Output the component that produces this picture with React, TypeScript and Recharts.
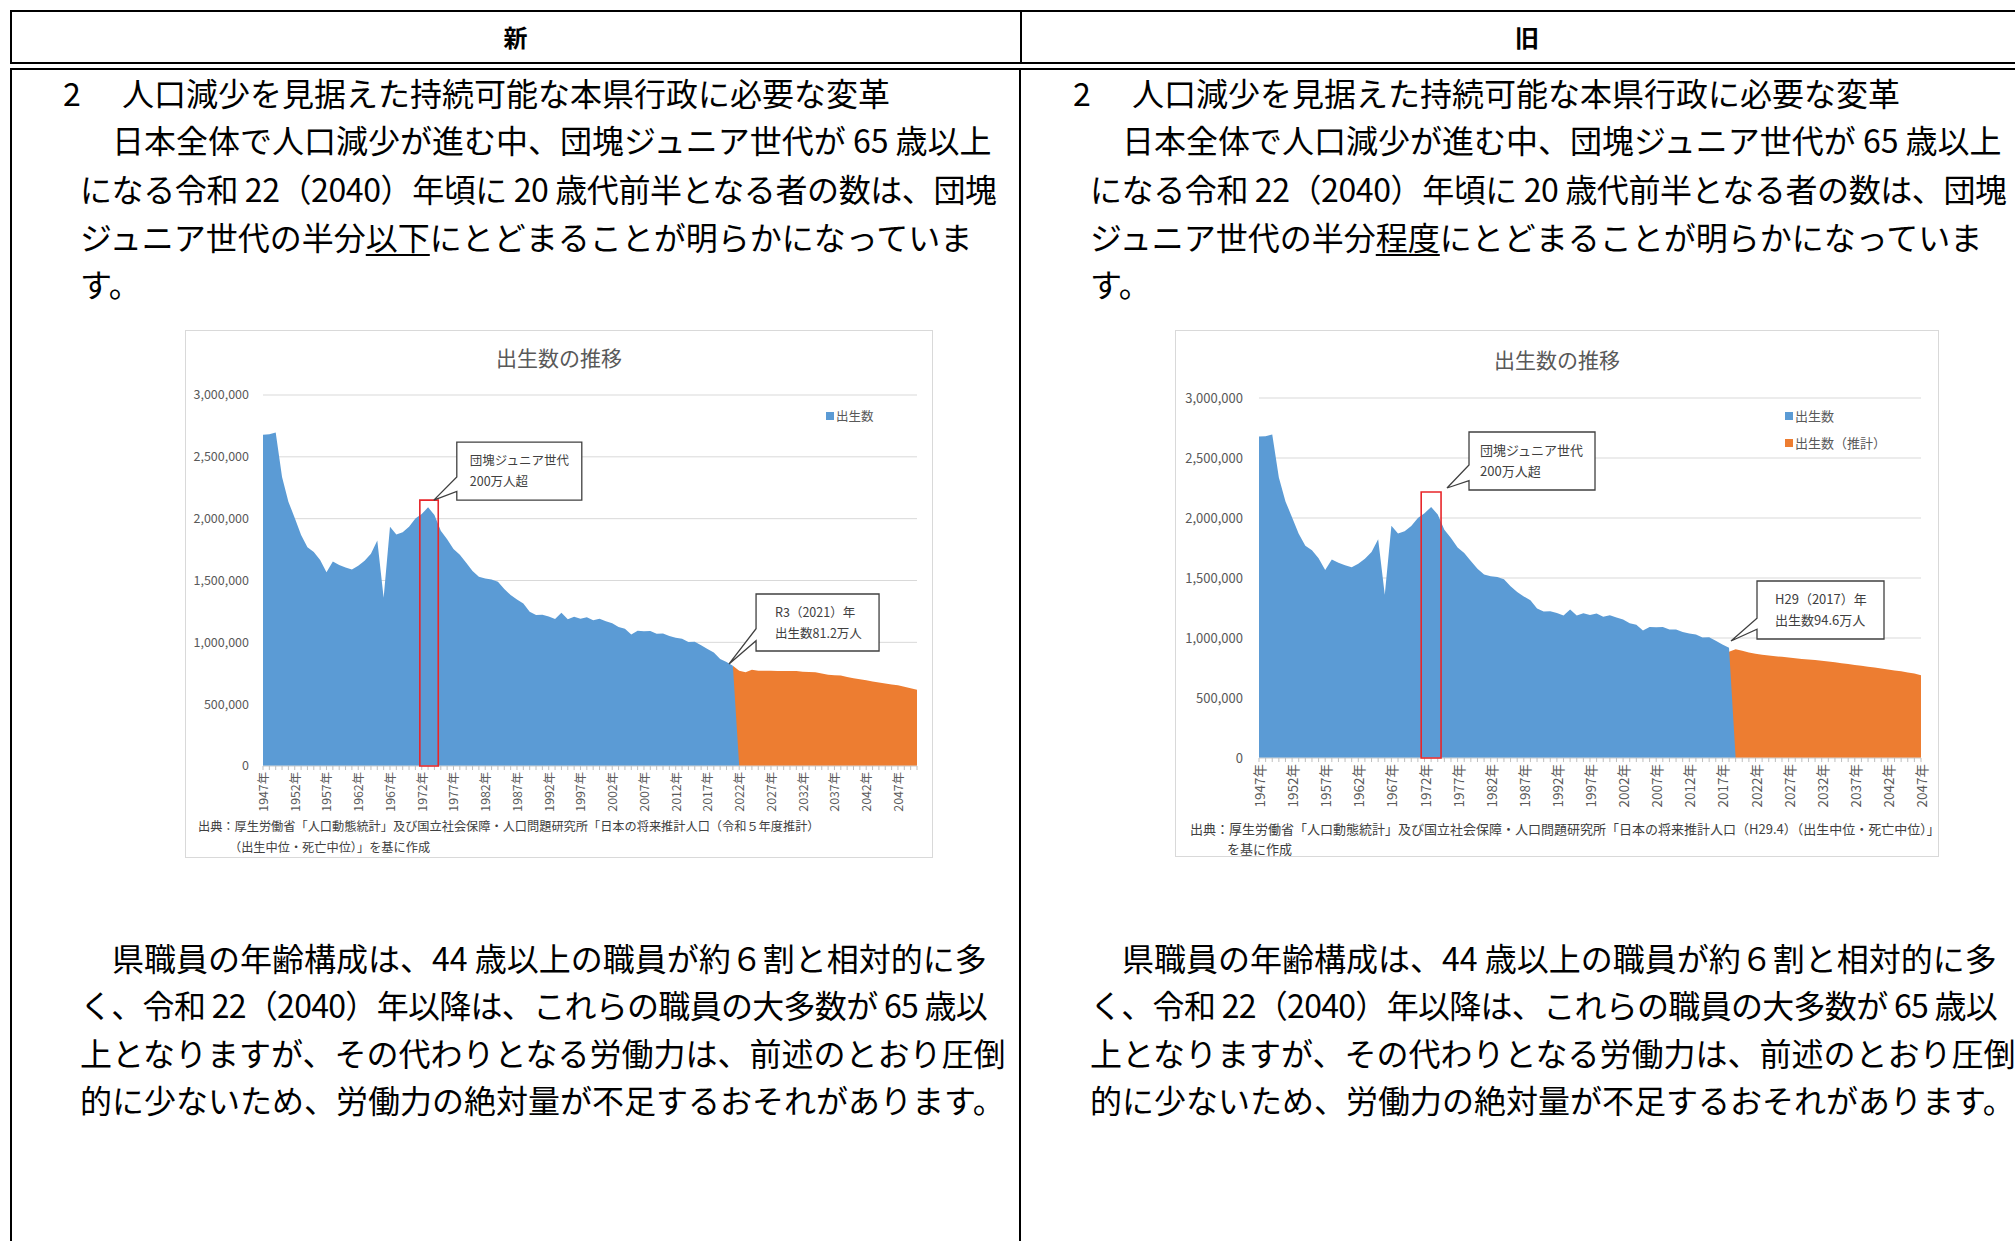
import React from "react";
import { AreaChart, Area, XAxis, YAxis, CartesianGrid, ReferenceArea, ReferenceDot } from "recharts";

const JP = '"Noto Sans CJK JP", "Noto Sans", sans-serif';

// 出生数（実績） 1947年〜2021年
const FIRST_YEAR = 1947;
const births = [
  2678792, 2681624, 2696638, 2337507, 2137689, 2005162, 1868040, 1769580, 1730692, 1665278,
  1566713, 1653469, 1626088, 1606041, 1589372, 1618616, 1659521, 1716761, 1823697, 1360974,
  1935647, 1871839, 1889815, 1934239, 2000973, 2038682, 2091983, 2029989, 1901440, 1832617,
  1755100, 1708643, 1642580, 1576889, 1529455, 1515392, 1508687, 1489780, 1431577, 1382946,
  1346658, 1314006, 1246802, 1221585, 1223245, 1208989, 1188282, 1238328, 1187064, 1206555,
  1191665, 1203147, 1177669, 1190547, 1170662, 1153855, 1123610, 1110721, 1062530, 1092674,
  1089818, 1091156, 1070035, 1071304, 1050806, 1037231, 1029816, 1003609, 1005721, 977242,
  946146, 918400, 865239, 840835, 811622,
];

// 出生数（推計）令和5年推計 2021年〜2050年
const projR5From = 2021;
const projR5 = [
  811622, 771000, 758000, 778000, 771000, 770000, 770000, 769000, 769000, 768000,
  768000, 762000, 760000, 758000, 748000, 738000, 734000, 732000, 720000, 710000,
  702000, 694000, 684000, 676000, 668000, 660000, 652000, 640000, 628000, 616000,
];

// 出生数（推計）H29推計 2018年〜2047年
const projH29From = 2018;
const projH29 = [
  885000, 906000, 893000, 880000, 868000, 860000, 854000, 848000, 843000, 837000,
  831000, 826000, 821000, 816000, 810000, 804000, 797000, 790000, 783000, 776000,
  768000, 761000, 754000, 746000, 738000, 730000, 722000, 713000, 704000, 690000,
];

const yTicks = [0, 500000, 1000000, 1500000, 2000000, 2500000, 3000000];
const labelYears = [
  1947, 1952, 1957, 1962, 1967, 1972, 1977, 1982, 1987, 1992, 1997,
  2002, 2007, 2012, 2017, 2022, 2027, 2032, 2037, 2042, 2047,
];

const BLUE = "#5B9BD5";
const ORANGE = "#ED7D31";
const GRAY = "#595959";

function buildRows(lastYear: number, actualTo: number, proj: number[], projFrom: number) {
  const rows: { year: number; actual: number | null; proj: number | null }[] = [];
  for (let y = FIRST_YEAR; y <= lastYear; y++) {
    let actual: number | null = null;
    if (y <= actualTo) actual = births[y - FIRST_YEAR];
    else if (y === actualTo + 1) actual = 0;
    const p = y >= projFrom && y - projFrom < proj.length ? proj[y - projFrom] : null;
    rows.push({ year: y, actual, proj: p });
  }
  return rows;
}

const Callout = (props: any) => {
  const { cx, cy, dx, dy, w, h, lines, pad, fontSize, wa, wb } = props;
  const left = cx + dx;
  const top = cy + dy;
  const d = `M${left},${top} H${left + w} V${top + h} H${left} V${top + h * wb} L${cx},${cy} L${left},${top + h * wa} Z`;
  return (
    <g>
      <path d={d} fill="#fff" stroke="#404040" strokeWidth={1.3} />
      {lines.map((t: string, i: number) => (
        <text
          key={i}
          x={left + pad}
          y={top + h * (i === 0 ? 0.3 : 0.67)}
          dominantBaseline="central"
          fontSize={fontSize}
          fontFamily={JP}
          fill="#404040"
        >
          {t}
        </text>
      ))}
    </g>
  );
};

type ChartCfg = {
  left: number;
  top: number;
  width: number;
  height: number;
  lastYear: number;
  actualTo: number;
  proj: number[];
  projFrom: number;
  margin: { top: number; right: number };
  yWidth: number;
  xHeight: number;
  yTickMargin: number;
  yFont: number;
  xFont: number;
  box: { x1: number; x2: number; y2: number };
  c1: any;
  c2: any;
  titleY: number;
  legend: { label: string; color: string }[];
  legendX: number;
  legendY: number;
  legendFont: number;
  notes: { text: string; x: number; y: number }[];
  noteFont: number;
};

function BirthChart({ cfg }: { cfg: ChartCfg }) {
  const rows = buildRows(cfg.lastYear, cfg.actualTo, cfg.proj, cfg.projFrom);
  const years = rows.map((r) => r.year);
  const YearTick = (p: any) => {
    const { x, y, payload } = p;
    if (!labelYears.includes(payload.value)) return <g />;
    return (
      <text
        x={x}
        y={y}
        transform={`rotate(-90 ${x} ${y})`}
        textAnchor="end"
        dominantBaseline="central"
        fontSize={cfg.xFont}
        fontFamily={JP}
        fill={GRAY}
      >
        {payload.value}年
      </text>
    );
  };
  return (
    <div style={{ position: "absolute", left: cfg.left, top: cfg.top, width: cfg.width, height: cfg.height }}>
      <div style={{ position: "absolute", inset: 0, border: "1px solid #d9d9d9", background: "#fff" }} />
      <div style={{ position: "absolute", left: 0, top: 0 }}>
        <AreaChart
          width={cfg.width}
          height={cfg.height}
          data={rows}
          margin={{ top: cfg.margin.top, right: cfg.margin.right, left: 0, bottom: 0 }}
        >
          <CartesianGrid vertical={false} stroke="#d9d9d9" />
          <XAxis
            dataKey="year"
            type="number"
            scale="linear"
            domain={[FIRST_YEAR, cfg.lastYear]}
            ticks={years}
            interval={0}
            tickSize={4}
            tickMargin={2}
            tickLine={{ stroke: "#bfbfbf" }}
            axisLine={{ stroke: "#d9d9d9" }}
            height={cfg.xHeight}
            tick={YearTick}
          />
          <YAxis
            type="number"
            domain={[0, 3000000]}
            ticks={yTicks}
            interval={0}
            width={cfg.yWidth}
            axisLine={false}
            tickLine={false}
            tickMargin={cfg.yTickMargin}
            tickFormatter={(v: number) => v.toLocaleString("en-US")}
            tick={{ fill: GRAY, fontSize: cfg.yFont, fontFamily: JP }}
          />
          <Area
            type="linear"
            dataKey="proj"
            fill={ORANGE}
            fillOpacity={1}
            stroke="none"
            dot={false}
            activeDot={false}
            isAnimationActive={false}
          />
          <Area
            type="linear"
            dataKey="actual"
            fill={BLUE}
            fillOpacity={1}
            stroke="none"
            dot={false}
            activeDot={false}
            isAnimationActive={false}
          />
          <ReferenceArea
            x1={cfg.box.x1}
            x2={cfg.box.x2}
            y1={0}
            y2={cfg.box.y2}
            fill="none"
            fillOpacity={0}
            stroke="#e8262a"
            strokeWidth={1.6}
            ifOverflow="visible"
            zIndex={1500}
          />
          <ReferenceDot
            x={cfg.c1.x}
            y={cfg.c1.y}
            r={0}
            ifOverflow="visible"
            zIndex={1600}
            shape={(p: any) => <Callout {...cfg.c1} cx={p.cx} cy={p.cy} />}
          />
          <ReferenceDot
            x={cfg.c2.x}
            y={cfg.c2.y}
            r={0}
            ifOverflow="visible"
            zIndex={1600}
            shape={(p: any) => <Callout {...cfg.c2} cx={p.cx} cy={p.cy} />}
          />
        </AreaChart>
      </div>
      <div
        style={{
          position: "absolute",
          left: 0,
          width: cfg.width,
          top: cfg.titleY - 15,
          lineHeight: "30px",
          textAlign: "center",
          fontFamily: JP,
          fontSize: 21,
          color: GRAY,
        }}
      >
        出生数の推移
      </div>
      {cfg.legend.map((l, i) => (
        <div
          key={l.label}
          style={{
            position: "absolute",
            left: cfg.legendX,
            top: cfg.legendY + i * 27 - 10,
            lineHeight: "20px",
            fontFamily: JP,
            fontSize: cfg.legendFont,
            color: GRAY,
            whiteSpace: "nowrap",
            display: "flex",
            alignItems: "center",
          }}
        >
          <span style={{ display: "inline-block", width: 8, height: 8, background: l.color, marginRight: 2 }} />
          {l.label}
        </div>
      ))}
      {cfg.notes.map((n) => (
        <div
          key={n.text}
          style={{
            position: "absolute",
            left: n.x,
            top: n.y - 10,
            lineHeight: "20px",
            fontFamily: JP,
            fontSize: cfg.noteFont,
            color: "#404040",
            whiteSpace: "nowrap",
          }}
        >
          {n.text}
        </div>
      ))}
    </div>
  );
}

const newChart: ChartCfg = {
  left: 185,
  top: 330,
  width: 748,
  height: 528,
  lastYear: 2050,
  actualTo: 2021,
  proj: projR5,
  projFrom: projR5From,
  margin: { top: 65, right: 16 },
  yWidth: 78,
  xHeight: 92,
  yTickMargin: 8,
  yFont: 12.5,
  xFont: 12.3,
  box: { x1: 1971.7, x2: 1974.6, y2: 2150000 },
  c1: { x: 1973.9, y: 2150000, dx: 23, dy: -58, w: 125, h: 58, wa: 0.6, wb: 0.85, pad: 13, fontSize: 12.5, lines: ["団塊ジュニア世代", "200万人超"] },
  c2: { x: 2020.4, y: 825000, dx: 27, dy: -70, w: 123, h: 57, wa: 0.61, wb: 0.82, pad: 19, fontSize: 12.5, lines: ["R3（2021）年", "出生数81.2万人"] },
  titleY: 27,
  legend: [{ label: "出生数", color: BLUE }],
  legendX: 641,
  legendY: 86,
  legendFont: 12.5,
  notes: [
    { text: "出典：厚生労働省「人口動態統計」及び国立社会保障・人口問題研究所「日本の将来推計人口（令和５年度推計）", x: 13, y: 496 },
    { text: "（出生中位・死亡中位）」を基に作成", x: 44, y: 517 },
  ],
  noteFont: 12.2,
};

const oldChart: ChartCfg = {
  left: 1175,
  top: 330,
  width: 764,
  height: 527,
  lastYear: 2047,
  actualTo: 2018,
  proj: projH29,
  projFrom: projH29From,
  margin: { top: 68, right: 18 },
  yWidth: 84,
  xHeight: 99,
  yTickMargin: 10,
  yFont: 13,
  xFont: 13.5,
  box: { x1: 1971.5, x2: 1974.5, y2: 2217000 },
  c1: { x: 1975.4, y: 2250000, dx: 22, dy: -56, w: 126, h: 58, wa: 0.57, wb: 0.84, pad: 11, fontSize: 13, lines: ["団塊ジュニア世代", "200万人超"] },
  c2: { x: 2018.3, y: 975000, dx: 26, dy: -60, w: 127, h: 58, wa: 0.64, wb: 0.83, pad: 18, fontSize: 13, lines: ["H29（2017）年", "出生数94.6万人"] },
  titleY: 29,
  legend: [
    { label: "出生数", color: BLUE },
    { label: "出生数（推計）", color: ORANGE },
  ],
  legendX: 610,
  legendY: 86,
  legendFont: 13,
  notes: [
    { text: "出典：厚生労働省「人口動態統計」及び国立社会保障・人口問題研究所「日本の将来推計人口（H29.4）（出生中位・死亡中位）」", x: 15, y: 499 },
    { text: "を基に作成", x: 52, y: 519 },
  ],
  noteFont: 13,
};

const introLines = (word: string) => [
  ["　日本全体で人口減少が進む中、団塊ジュニア世代が 65 歳以上"],
  ["になる令和 22（2040）年頃に 20 歳代前半となる者の数は、団塊"],
  ["ジュニア世代の半分", word, "にとどまることが明らかになっていま"],
  ["す。"],
];
const closingLines = [
  "　県職員の年齢構成は、44 歳以上の職員が約６割と相対的に多",
  "く、令和 22（2040）年以降は、これらの職員の大多数が 65 歳以",
  "上となりますが、その代わりとなる労働力は、前述のとおり圧倒",
  "的に少ないため、労働力の絶対量が不足するおそれがあります。",
];
const introY = [139, 188, 236, 283];
const introSpacing = [0, -0.4, 0, 0];
const closingY = [957, 1004, 1052, 1099];
const closingSpacing = [0, -0.7, 0, 0];

const lineStyle = (x: number, y: number, ls = 0): React.CSSProperties => ({
  position: "absolute",
  left: x,
  top: y - 20,
  lineHeight: "40px",
  fontSize: 32,
  fontFamily: JP,
  color: "#000",
  whiteSpace: "nowrap",
  letterSpacing: ls,
});

function Column({ offset, word }: { offset: number; word: string }) {
  return (
    <>
      <div style={lineStyle(63 + offset, 92)}>2</div>
      <div style={lineStyle(122 + offset, 92)}>人口減少を見据えた持続可能な本県行政に必要な変革</div>
      {introLines(word).map((parts, i) => (
        <div key={i} style={lineStyle(80 + offset, introY[i], introSpacing[i])}>
          {parts.length === 1 ? (
            parts[0]
          ) : (
            <>
              {parts[0]}
              <span style={{ textDecoration: "underline", textUnderlineOffset: 4, textDecorationThickness: 2 }}>{parts[1]}</span>
              {parts[2]}
            </>
          )}
        </div>
      ))}
      {closingLines.map((t, i) => (
        <div key={t} style={lineStyle(80 + offset, closingY[i], closingSpacing[i])}>
          {t}
        </div>
      ))}
    </>
  );
}

export default function App() {
  return (
    <div
      style={{
        position: "absolute",
        left: 0,
        top: 0,
        width: 2015,
        height: 1241,
        overflow: "hidden",
        background: "#fff",
        fontFamily: JP,
      }}
    >
      {/* header row */}
      <div style={{ position: "absolute", left: 10, top: 10, width: 2060, height: 54, border: "2px solid #000", boxSizing: "border-box" }} />
      <div style={{ position: "absolute", left: 1020, top: 10, width: 2, height: 54, background: "#000" }} />
      <div style={{ position: "absolute", left: 10, top: 21, width: 1011, textAlign: "center", fontSize: 24, fontWeight: 700, lineHeight: "32px" }}>新</div>
      <div style={{ position: "absolute", left: 1021, top: 21, width: 1012, textAlign: "center", fontSize: 24, fontWeight: 700, lineHeight: "32px" }}>旧</div>
      {/* body row */}
      <div style={{ position: "absolute", left: 10, top: 68, width: 2060, height: 1400, border: "2px solid #000", boxSizing: "border-box" }} />
      <div style={{ position: "absolute", left: 1019, top: 68, width: 2, height: 1400, background: "#000" }} />

      <Column offset={0} word="以下" />
      <Column offset={1010} word="程度" />

      <BirthChart cfg={newChart} />
      <BirthChart cfg={oldChart} />
    </div>
  );
}
